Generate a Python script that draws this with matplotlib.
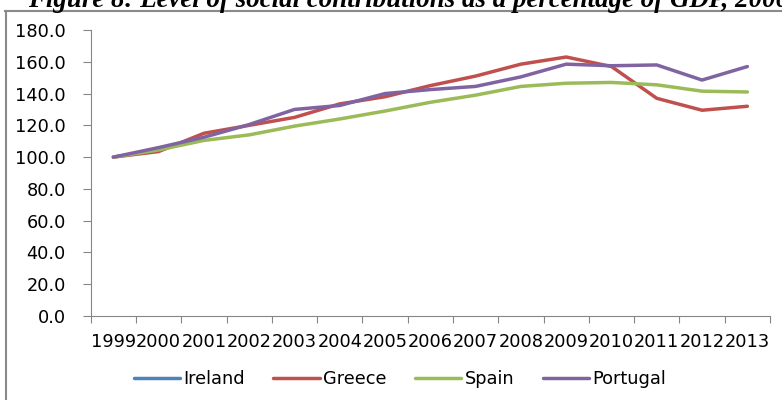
import numpy as np
import matplotlib.pyplot as plt
from matplotlib.lines import Line2D

years = [str(y) for y in range(1999, 2014)]
# Ireland has no points drawn in the original chart, only a legend entry
ireland = [np.nan] * 15
greece = [100.0, 103.5, 115.0, 120.0, 125.0, 133.5, 138.0, 145.0, 151.0, 158.5, 163.0, 157.0, 137.0, 129.5, 132.0]
spain = [100.0, 104.5, 110.5, 114.0, 119.5, 124.0, 129.0, 134.5, 139.0, 144.5, 146.5, 147.0, 145.5, 141.5, 141.0]
portugal = [100.0, 106.0, 112.5, 120.5, 130.0, 132.5, 140.0, 142.5, 144.5, 150.5, 158.5, 157.5, 158.0, 148.5, 157.0]

names = ["Ireland", "Greece", "Spain", "Portugal"]
colors = ["#4F81BD", "#C0504D", "#9BBB59", "#8064A2"]

plt.rcParams['font.family'] = ['DejaVu Sans']
fs = 12.8

fig = plt.figure(figsize=(7.82, 4.0), dpi=100)
ax = fig.add_axes([90.7 / 782, 1 - 316 / 400, (770 - 90.7) / 782, (316 - 30) / 400])

x = np.arange(len(years))
for vals, name, c in zip([ireland, greece, spain, portugal], names, colors):
    ax.plot(x, vals, color=c, lw=2.5, label=name, solid_capstyle='round')

ax.set_xlim(-0.5, len(years) - 0.5)
ax.set_ylim(0, 180)
ax.set_yticks(np.arange(0, 181, 20))
ax.set_yticklabels(["%.1f" % v for v in np.arange(0, 181, 20)])
ax.set_xticks(np.arange(-0.5, len(years)))
ax.set_xticklabels([])
ax.set_xticks(x, minor=True)
ax.set_xticklabels(years, minor=True)
ax.tick_params(axis='x', which='minor', length=0, pad=12, labelsize=fs)
ax.tick_params(axis='x', which='major', length=5, color='#868686', direction='out')
ax.tick_params(axis='y', length=6, color='#868686', pad=12, labelsize=fs)

for s in ['top', 'right']:
    ax.spines[s].set_visible(False)
for s in ['left', 'bottom']:
    ax.spines[s].set_color('#868686')

fig.legend(loc='center', bbox_to_anchor=(400 / 782, 1 - 379 / 400), ncol=4, frameon=False,
           fontsize=fs, handlelength=2.6, handletextpad=0.2, columnspacing=1.6)

# chart area border (only left and top edges visible in the crop)
fig.add_artist(Line2D([5.5 / 782, 5.5 / 782], [0, 1 - 11 / 400], color='#8a8a8a', lw=1.5, transform=fig.transFigure))
fig.add_artist(Line2D([5 / 782, 1], [1 - 11 / 400, 1 - 11 / 400], color='#8a8a8a', lw=1.5, transform=fig.transFigure))

fig.text(28 / 782, 1 - 7 / 400, "Figure 8: Level of social contributions as a percentage of GDP, 2000-2013",
         family='Liberation Serif', weight='bold', style='italic', fontsize=19.4, va='baseline')

fig.savefig("out.png", dpi=100)
